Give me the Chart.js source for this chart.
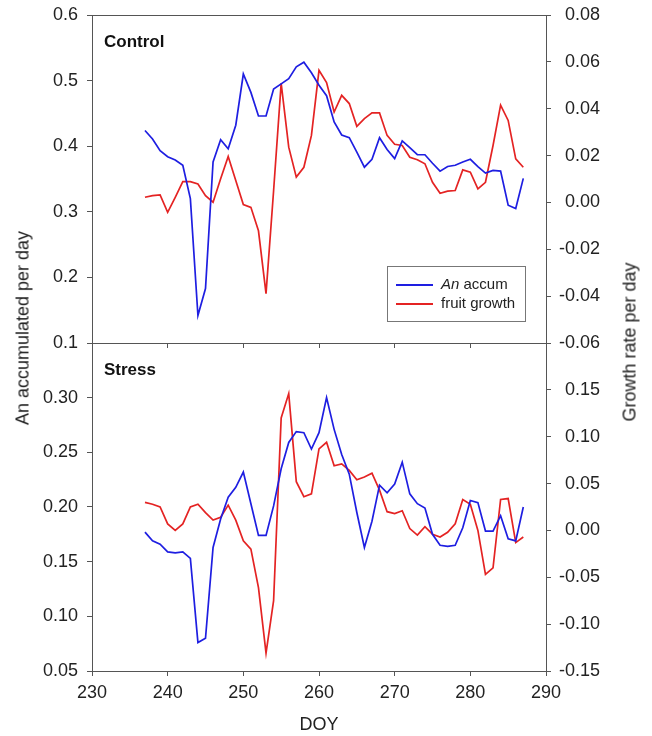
<!DOCTYPE html>
<html>
<head>
<meta charset="utf-8">
<script src="https://cdn.jsdelivr.net/npm/chart.js@4"></script>
<style>
  body { margin: 0; background: #fff; }
  #wrap { position: relative; width: 652px; height: 736px; font-family: 'Liberation Sans', Arial, sans-serif; color: #222; }
  canvas { position: absolute; left: 0; }
  .ytitle { position: absolute; font-size: 18px; white-space: nowrap; transform: translate(-50%, -50%) rotate(-90deg); }
</style>
</head>
<body>
<div id="wrap">
  <canvas id="topChart" width="652" height="360" style="top:0"></canvas>
  <canvas id="bottomChart" width="652" height="406" style="top:330px"></canvas>
  <div class="ytitle" style="left:23px; top:328px;">An accumulated per day</div>
  <div class="ytitle" style="left:630px; top:342px;">Growth rate per day</div>
</div>
<script>
// day of year
const doy = [237, 238, 239, 240, 241, 242, 243, 244, 245, 246,
             247, 248, 249, 250, 251, 252, 253, 254, 255, 256,
             257, 258, 259, 260, 261, 262, 263, 264, 265, 266,
             267, 268, 269, 270, 271, 272, 273, 274, 275, 276,
             277, 278, 279, 280, 281, 282, 283, 284, 285, 286, 287];

// Control panel
const controlAn = [0.424, 0.411, 0.393, 0.384, 0.379, 0.371, 0.320, 0.142, 0.183, 0.376,
                   0.410, 0.396, 0.432, 0.510, 0.482, 0.446, 0.446, 0.487, 0.495, 0.503,
                   0.521, 0.528, 0.512, 0.493, 0.477, 0.437, 0.417, 0.413, 0.391, 0.368,
                   0.380, 0.413, 0.395, 0.381, 0.408, 0.398, 0.387, 0.387, 0.374, 0.362,
                   0.369, 0.371, 0.376, 0.380, 0.369, 0.359, 0.363, 0.362, 0.310, 0.305, 0.351];
const controlGrowth = [0.0022, 0.0029, 0.0032, -0.0042, 0.0022, 0.0089, 0.0089, 0.0079, 0.0029, 0.0001,
                       0.0101, 0.0196, 0.0094, -0.0009, -0.0021, -0.0121, -0.0389, 0.0050, 0.0508, 0.0236,
                       0.0108, 0.0150, 0.0286, 0.0564, 0.0512, 0.0386, 0.0457, 0.0422, 0.0325, 0.0358,
                       0.0382, 0.0382, 0.0286, 0.0248, 0.0243, 0.0193, 0.0182, 0.0165, 0.0086, 0.0039,
                       0.0048, 0.0051, 0.0139, 0.0129, 0.0058, 0.0086, 0.0243, 0.0415, 0.0350, 0.0186, 0.0150];

// Stress panel
const stressAn = [0.177, 0.169, 0.166, 0.159, 0.158, 0.159, 0.153, 0.076, 0.080, 0.163,
                  0.189, 0.209, 0.218, 0.232, 0.203, 0.174, 0.174, 0.201, 0.235, 0.259,
                  0.269, 0.268, 0.253, 0.268, 0.300, 0.271, 0.248, 0.230, 0.195, 0.163,
                  0.187, 0.220, 0.213, 0.221, 0.241, 0.212, 0.203, 0.199, 0.175, 0.165,
                  0.164, 0.165, 0.181, 0.206, 0.204, 0.178, 0.178, 0.192, 0.171, 0.169, 0.200];
const stressGrowth = [0.030, 0.028, 0.025, 0.007, 0.000, 0.007, 0.025, 0.028, 0.019, 0.011,
                      0.014, 0.027, 0.011, -0.011, -0.020, -0.061, -0.131, -0.075, 0.120, 0.146,
                      0.052, 0.036, 0.039, 0.087, 0.094, 0.069, 0.071, 0.064, 0.054, 0.057,
                      0.061, 0.043, 0.020, 0.018, 0.021, 0.002, -0.005, 0.004, -0.004, -0.007,
                      -0.002, 0.007, 0.033, 0.028, 0.000, -0.047, -0.040, 0.033, 0.034, -0.013, -0.007];

const BLUE = 'rgb(30,30,225)';
const RED = 'rgb(228,35,35)';
const AXIS = '#555';
const FONT = "'Liberation Sans', Arial, sans-serif";
const tickFont = { family: FONT, size: 18 };

const toPoints = (ys) => doy.map((d, i) => ({ x: d, y: ys[i] }));
const fmt = (n) => (v) => (Math.abs(v) < 1e-9 ? 0 : v).toFixed(n);
const dropTop = (max) => (s) => { s.ticks = s.ticks.filter(t => t.value < max - 1e-9); };
// stop label overflow from pushing the plot area around
const noPad = (s) => { s.paddingTop = 0; s.paddingBottom = 0; s.paddingLeft = 0; s.paddingRight = 0; };

// frame, panel label and (optional) legend
const panelPlugin = {
  id: 'panel',
  afterDraw(chart, args, opts) {
    const { ctx, chartArea: a } = chart;
    ctx.save();
    ctx.strokeStyle = AXIS;
    ctx.lineWidth = 1;
    ctx.beginPath();
    ctx.moveTo(a.left + 0.5, a.top + 0.5);
    ctx.lineTo(a.right + 0.5, a.top + 0.5);
    ctx.stroke();

    ctx.fillStyle = '#111';
    ctx.font = 'bold 17px ' + FONT;
    ctx.textBaseline = 'middle';
    ctx.fillText(opts.label, 104, a.top + 27);

    if (opts.legend) {
      ctx.strokeStyle = '#777';
      ctx.strokeRect(387.5, 266.5, 138, 55);
      const rows = [[BLUE, 285], [RED, 304]];
      rows.forEach(([c, y]) => {
        ctx.strokeStyle = c;
        ctx.lineWidth = 1.8;
        ctx.beginPath();
        ctx.moveTo(396, y);
        ctx.lineTo(433, y);
        ctx.stroke();
      });
      ctx.fillStyle = '#222';
      ctx.font = 'italic 15px ' + FONT;
      ctx.fillText('An', 441, 285);
      const w = ctx.measureText('An').width;
      ctx.font = '15px ' + FONT;
      ctx.fillText(' accum', 441 + w, 285);
      ctx.fillText('fruit growth', 441, 304);
    }
    ctx.restore();
  }
};

function lineSet(data, color, axis) {
  return { data: data, borderColor: color, borderWidth: 1.7, pointRadius: 0, tension: 0, yAxisID: axis };
}

function yScale(pos, min, max, step, dec, extra) {
  return Object.assign({
    type: 'linear',
    position: pos,
    min: min,
    max: max,
    ticks: { stepSize: step, callback: fmt(dec), font: tickFont, color: '#222', padding: 9,
             crossAlign: pos === 'right' ? 'far' : 'near' },
    grid: { drawOnChartArea: false, tickLength: 5, color: AXIS },
    border: { color: AXIS },
    afterFit: (s) => { s.width = pos === 'left' ? 92 : 54; noPad(s); }
  }, extra || {});
}

const topChart = new Chart(document.getElementById('topChart'), {
  type: 'line',
  data: {
    datasets: [
      lineSet(toPoints(controlAn), BLUE, 'yL'),
      lineSet(toPoints(controlGrowth), RED, 'yR')
    ]
  },
  options: {
    responsive: false,
    animation: false,
    layout: { padding: { top: 15, left: 0, right: 52, bottom: 0 }, autoPadding: false },
    scales: {
      x: {
        type: 'linear', min: 230, max: 290,
        ticks: { stepSize: 10, display: false },
        grid: { drawOnChartArea: false, tickLength: 5, color: AXIS },
        border: { color: AXIS },
        afterFit: (s) => { s.height = 17; noPad(s); }
      },
      yL: yScale('left', 0.1, 0.6, 0.1, 1),
      yR: yScale('right', -0.06, 0.08, 0.02, 2)
    },
    plugins: {
      legend: { display: false },
      tooltip: { enabled: false },
      panel: { label: 'Control', legend: true }
    }
  },
  plugins: [panelPlugin]
});

const bottomChart = new Chart(document.getElementById('bottomChart'), {
  type: 'line',
  data: {
    datasets: [
      lineSet(toPoints(stressAn), BLUE, 'yL'),
      lineSet(toPoints(stressGrowth), RED, 'yR')
    ]
  },
  options: {
    responsive: false,
    animation: false,
    layout: { padding: { top: 13, left: 0, right: 52, bottom: 0 }, autoPadding: false },
    scales: {
      x: {
        type: 'linear', min: 230, max: 290,
        ticks: { stepSize: 10, font: tickFont, color: '#222', padding: 6, maxRotation: 0 },
        grid: { drawOnChartArea: false, tickLength: 5, color: AXIS },
        border: { color: AXIS },
        title: { display: true, text: 'DOY', font: { family: FONT, size: 18 }, color: '#222', padding: 0 },
        afterFit: (s) => { s.height = 65; noPad(s); }
      },
      yL: yScale('left', 0.05, 0.35, 0.05, 2, { afterBuildTicks: dropTop(0.35) }),
      yR: yScale('right', -0.15, 0.20, 0.05, 2, { afterBuildTicks: dropTop(0.20) })
    },
    plugins: {
      legend: { display: false },
      tooltip: { enabled: false },
      panel: { label: 'Stress', legend: false }
    }
  },
  plugins: [panelPlugin]
});
</script>
</body>
</html>
